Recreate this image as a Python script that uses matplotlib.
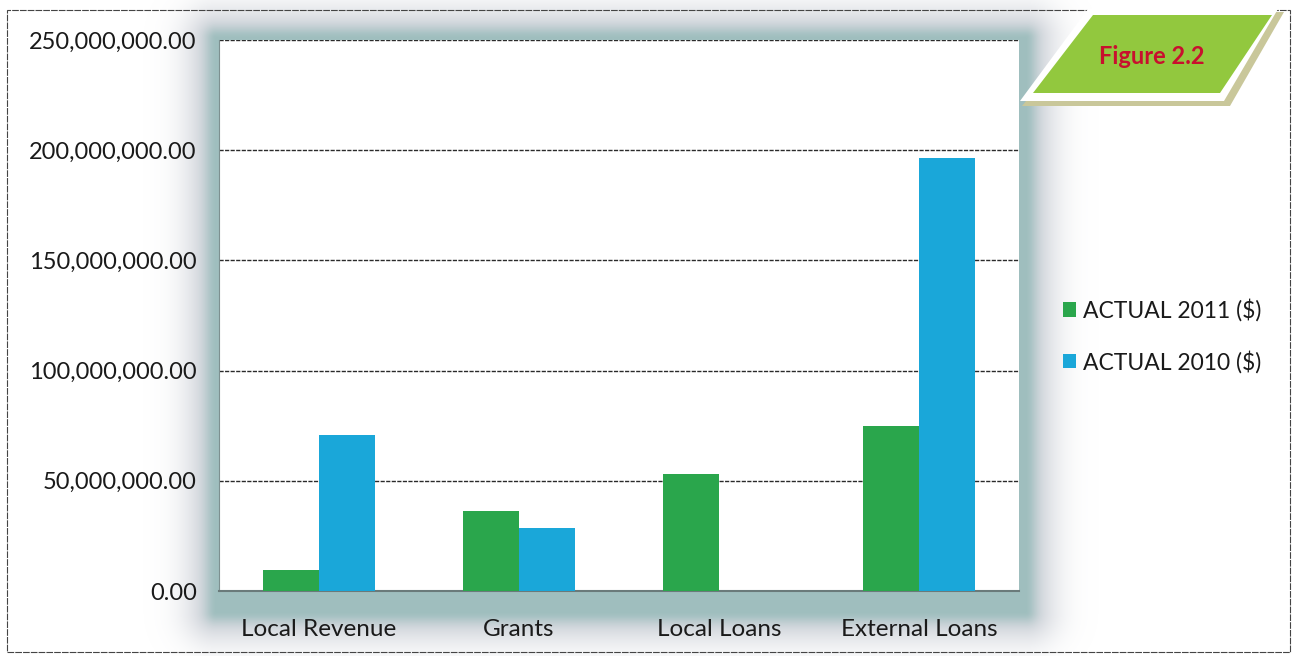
import numpy as np
import matplotlib.pyplot as plt
from matplotlib.patches import Rectangle, Polygon
from matplotlib.ticker import FuncFormatter

categories = ["Local Revenue", "Grants", "Local Loans", "External Loans"]
actual_2011 = [9.5e6, 36.2e6, 53.0e6, 74.9e6]
actual_2010 = [70.8e6, 28.4e6, 0.0, 196.5e6]
series_names = ["ACTUAL 2011 ($)", "ACTUAL 2010 ($)"]

W, H = 1294, 656
fig = plt.figure(figsize=(W / 100, H / 100), dpi=100)
plt.rcParams['font.family'] = ['Lato', 'DejaVu Sans']

# plot area in pixels
left, right, top, bottom = 219, 1019, 40, 591
ax = fig.add_axes([left / W, 1 - bottom / H, (right - left) / W, (bottom - top) / H])

# soft teal/grey glow behind the plot area (scanned look)
yy, xx = np.mgrid[0:H, 0:W]
gl, gr, gt, gb = left - 3, right + 6, top - 2, bottom + 20
dx = np.maximum(np.maximum(gl - xx, 0), xx - gr)
dy = np.maximum(np.maximum(gt - yy, 0), yy - gb)
d = np.sqrt(dx ** 2 + dy ** 2)
alpha = 0.72 * np.exp(-(d / 32.0) ** 2)
t = np.exp(-(d / 12.0) ** 2)[..., None]
teal = np.array([0.48, 0.65, 0.65])
grey = np.array([0.72, 0.74, 0.78])
rgb = t * teal + (1 - t) * grey
img = np.dstack([rgb, alpha])
fig.figimage(img, xo=0, yo=0, origin='upper', zorder=-10)

x = np.arange(len(categories))
w = 0.28
ax.bar(x - w / 2, actual_2011, w, color='#2aa64c', label=series_names[0], zorder=3)
ax.bar(x + w / 2, actual_2010, w, color='#1aa7d9', label=series_names[1], zorder=3)

ax.set_facecolor('white')
ax.set_xlim(-0.5, 3.5)
ax.set_ylim(0, 250e6)
ax.set_yticks(np.arange(0, 250e6 + 1, 50e6))
ax.yaxis.set_major_formatter(FuncFormatter(lambda v, p: f"{v:,.2f}"))
ax.set_xticks(x)
ax.set_xticklabels(categories)
ax.tick_params(axis='y', labelsize=17, length=0, pad=16, colors='#1a1a1a')
ax.tick_params(axis='x', labelsize=17.5, length=0, pad=20, colors='#1a1a1a')
ax.grid(axis='y', color='#2a2a2a', linestyle=(0, (3, 1)), linewidth=1.0, zorder=1)
for s in ['top', 'right']:
    ax.spines[s].set_visible(False)
ax.spines['left'].set_color('#7d9090')
ax.spines['bottom'].set_color('#6a7a7a')
ax.spines['bottom'].set_linewidth(1.5)

fig.legend(loc='upper left', bbox_to_anchor=(1042 / W, 1 - 278 / H), frameon=False,
           fontsize=16.5, handlelength=0.6, handleheight=0.6, handletextpad=0.3,
           labelspacing=1.25, labelcolor='#1a1a1a')

# outer scanned frame
fig.patches.append(Rectangle((7 / W, 1 - 652 / H), (1290 - 7) / W, (652 - 10) / H,
                             transform=fig.transFigure, facecolor='none',
                             edgecolor='#444444', linewidth=0.8,
                             linestyle=(0, (6, 1)), zorder=4))

# "Figure 2.2" badge
def px(pts):
    return [(px_ / W, 1 - py / H) for px_, py in pts]

fig.patches.append(Polygon(px([(1098, 12), (1284, 12), (1230, 106), (1022, 106)]),
                           closed=True, transform=fig.transFigure, facecolor='#c9c79a',
                           edgecolor='none', zorder=5))
fig.patches.append(Polygon(px([(1088, 9), (1278, 9), (1224, 101), (1020, 101)]),
                           closed=True, transform=fig.transFigure, facecolor='white',
                           edgecolor='none', zorder=6))
fig.patches.append(Polygon(px([(1093, 15), (1272, 15), (1220, 93), (1033, 93)]),
                           closed=True, transform=fig.transFigure, facecolor='#92c83e',
                           edgecolor='none', zorder=7))
fig.text(1152 / W, 1 - 57 / H, "Figure 2.2", color='#c8102e', fontsize=17,
         fontweight='bold', ha='center', va='center', zorder=8)

fig.savefig("out.png", dpi=100)
